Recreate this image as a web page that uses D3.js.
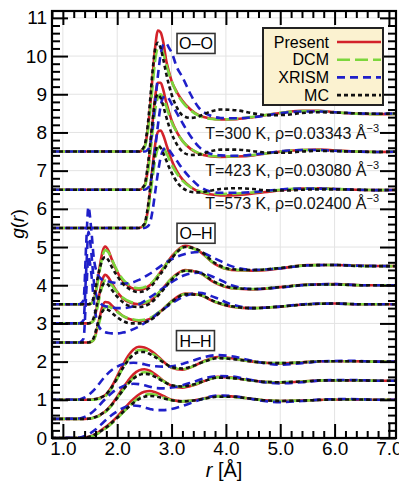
<!DOCTYPE html>
<html>
<head>
<meta charset="utf-8">
<script src="https://cdn.jsdelivr.net/npm/d3@7"></script>
<style>
  body { margin: 0; background: #fff; }
  svg { display: block; font-family: "Liberation Sans", Arial, sans-serif; }
</style>
</head>
<body>
<svg id="chart" width="399" height="481"></svg>
<script>
// ---- data (g(r), offsets added when drawing) ----
const seriesNames = ["Present", "DCM", "XRISM", "MC"];
const tempLabels = ["T=300 K, \u03c1=0.03343 \u00c5", "T=423 K, \u03c1=0.03080 \u00c5", "T=573 K, \u03c1=0.02400 \u00c5"];
const xTicks = [1, 2, 3, 4, 5, 6, 7];
const yTicks = [0, 1, 2, 3, 4, 5, 6, 7, 8, 9, 10, 11];

// O-O
const ooOffsets = [7.5, 6.5, 5.5];
const rOO = [0.8, 2.40, 2.50, 2.55, 2.60, 2.65, 2.70, 2.75, 2.80, 2.85, 2.90, 2.95, 3.00, 3.10, 3.20, 3.35, 3.50, 3.70, 3.90, 4.20, 4.50, 4.80, 5.10, 5.40, 5.70, 6.00, 6.40, 6.80, 7.20];
const ooPresent = [
  [0, 0, 0.12, 0.45, 1.1, 1.95, 2.75, 3.17, 3.12, 2.85, 2.4, 2.1, 1.85, 1.55, 1.33, 1.1, 0.95, 0.87, 0.84, 0.85, 0.9, 0.97, 1.03, 1.07, 1.07, 1.03, 0.99, 0.98, 0.99],
  [0, 0, 0.1, 0.4, 1.0, 1.75, 2.45, 2.8, 2.8, 2.6, 2.3, 2.05, 1.82, 1.5, 1.28, 1.07, 0.95, 0.88, 0.86, 0.87, 0.9, 0.96, 1.01, 1.04, 1.05, 1.03, 1.0, 0.99, 1.0],
  [0, 0, 0.08, 0.35, 0.9, 1.6, 2.2, 2.52, 2.55, 2.42, 2.2, 1.98, 1.78, 1.48, 1.27, 1.07, 0.95, 0.88, 0.85, 0.86, 0.9, 0.95, 1.0, 1.03, 1.04, 1.02, 1.0, 0.99, 1.0]
];
const ooDCM = [
  [0, 0, 0.1, 0.38, 0.95, 1.7, 2.4, 2.72, 2.74, 2.55, 2.3, 2.05, 1.85, 1.52, 1.3, 1.08, 0.94, 0.86, 0.84, 0.86, 0.91, 0.97, 1.03, 1.06, 1.06, 1.03, 0.99, 0.98, 0.99],
  [0, 0, 0.08, 0.33, 0.85, 1.5, 2.1, 2.42, 2.5, 2.4, 2.2, 1.98, 1.78, 1.5, 1.28, 1.08, 0.96, 0.89, 0.87, 0.88, 0.91, 0.96, 1.01, 1.04, 1.04, 1.02, 1.0, 0.99, 1.0],
  [0, 0, 0.07, 0.3, 0.75, 1.3, 1.8, 2.08, 2.15, 2.1, 1.98, 1.82, 1.66, 1.42, 1.24, 1.07, 0.97, 0.91, 0.89, 0.9, 0.93, 0.97, 1.01, 1.03, 1.03, 1.02, 1.0, 0.99, 1.0]
];
const ooXRISM = [
  [0, 0, 0, 0.03, 0.15, 0.6, 1.3, 2.0, 2.55, 2.8, 2.84, 2.72, 2.6, 2.2, 1.95, 1.5, 1.15, 0.95, 0.88, 0.87, 0.9, 0.96, 1.02, 1.05, 1.05, 1.03, 1.0, 0.99, 1.0],
  [0, 0, 0, 0.03, 0.13, 0.5, 1.1, 1.7, 2.2, 2.42, 2.45, 2.38, 2.25, 2.0, 1.75, 1.4, 1.13, 0.95, 0.9, 0.89, 0.92, 0.97, 1.02, 1.04, 1.04, 1.02, 1.0, 0.99, 1.0],
  [0, 0, 0, 0.03, 0.12, 0.45, 0.95, 1.45, 1.85, 2.05, 2.1, 2.05, 1.95, 1.75, 1.55, 1.3, 1.1, 0.96, 0.92, 0.92, 0.94, 0.98, 1.02, 1.03, 1.03, 1.02, 1.0, 0.99, 1.0]
];
const ooMC = [
  [0, 0, 0.15, 0.55, 1.25, 2.1, 2.7, 2.85, 2.7, 2.4, 2.05, 1.75, 1.5, 1.15, 0.95, 0.88, 0.92, 1.04, 1.1, 1.08, 1.0, 0.95, 0.96, 1.01, 1.03, 1.02, 1.0, 0.99, 1.0],
  [0, 0, 0.12, 0.5, 1.1, 1.8, 2.35, 2.5, 2.4, 2.18, 1.92, 1.68, 1.48, 1.18, 1.0, 0.91, 0.92, 1.0, 1.05, 1.05, 1.01, 0.97, 0.97, 1.0, 1.02, 1.01, 1.0, 0.99, 1.0],
  [0, 0, 0.1, 0.42, 0.95, 1.55, 1.98, 2.15, 2.1, 1.95, 1.78, 1.6, 1.45, 1.2, 1.05, 0.95, 0.93, 0.97, 1.02, 1.04, 1.02, 0.98, 0.98, 1.0, 1.01, 1.01, 1.0, 0.99, 1.0]
];

// O-H
const ohOffsets = [3.5, 3.0, 2.5];
const rOH = [0.8, 1.30, 1.38, 1.43, 1.47, 1.52, 1.57, 1.62, 1.68, 1.73, 1.78, 1.84, 1.90, 2.00, 2.10, 2.25, 2.40, 2.60, 2.80, 3.00, 3.25, 3.50, 3.80, 4.10, 4.50, 5.00, 5.50, 6.00, 6.50, 7.20];
const ohPresent = [
  [0, 0, 0, 0, 0, 0.02, 0.12, 0.45, 1.0, 1.38, 1.51, 1.4, 1.18, 0.85, 0.62, 0.44, 0.38, 0.5, 0.85, 1.25, 1.53, 1.4, 1.05, 0.9, 0.88, 0.94, 1.03, 1.03, 1.01, 1.0],
  [0, 0, 0, 0, 0, 0.02, 0.1, 0.38, 0.82, 1.15, 1.27, 1.2, 1.05, 0.82, 0.66, 0.54, 0.5, 0.58, 0.85, 1.18, 1.4, 1.33, 1.06, 0.92, 0.89, 0.95, 1.02, 1.03, 1.0, 1.0],
  [0, 0, 0, 0, 0, 0.02, 0.08, 0.3, 0.68, 0.95, 1.06, 1.05, 0.97, 0.82, 0.7, 0.6, 0.56, 0.62, 0.82, 1.08, 1.28, 1.25, 1.06, 0.94, 0.9, 0.94, 1.0, 1.02, 1.0, 1.0]
];
const ohDCM = [
  [0, 0, 0, 0, 0, 0.02, 0.1, 0.4, 0.9, 1.27, 1.42, 1.36, 1.18, 0.88, 0.66, 0.48, 0.42, 0.52, 0.85, 1.23, 1.5, 1.4, 1.06, 0.91, 0.89, 0.95, 1.02, 1.03, 1.0, 1.0],
  [0, 0, 0, 0, 0, 0.02, 0.08, 0.32, 0.72, 1.0, 1.12, 1.1, 1.0, 0.82, 0.68, 0.56, 0.52, 0.6, 0.86, 1.17, 1.38, 1.33, 1.08, 0.93, 0.9, 0.95, 1.01, 1.02, 1.0, 1.0],
  [0, 0, 0, 0, 0, 0.02, 0.07, 0.26, 0.58, 0.82, 0.92, 0.94, 0.9, 0.8, 0.7, 0.62, 0.58, 0.64, 0.83, 1.07, 1.27, 1.25, 1.07, 0.95, 0.9, 0.94, 1.0, 1.02, 1.0, 1.0]
];
const ohXRISM = [
  [0, 0, 0.1, 1.6, 2.55, 2.0, 1.2, 0.85, 0.7, 0.64, 0.62, 0.6, 0.58, 0.55, 0.54, 0.56, 0.64, 0.8, 1.0, 1.18, 1.32, 1.37, 1.2, 1.0, 0.9, 0.94, 1.02, 1.03, 1.01, 1.0],
  [0, 0, 0.08, 1.4, 2.4, 1.9, 1.1, 0.72, 0.55, 0.48, 0.45, 0.43, 0.42, 0.4, 0.4, 0.43, 0.5, 0.68, 0.88, 1.08, 1.27, 1.33, 1.2, 1.0, 0.9, 0.94, 1.01, 1.03, 1.0, 1.0],
  [0, 0, 0.1, 1.3, 2.25, 1.85, 1.1, 0.6, 0.38, 0.3, 0.27, 0.25, 0.24, 0.24, 0.26, 0.32, 0.42, 0.6, 0.82, 1.02, 1.22, 1.3, 1.18, 1.0, 0.9, 0.94, 1.01, 1.02, 1.0, 1.0]
];
const ohMC = [
  [0, 0, 0, 0, 0, 0.04, 0.2, 0.55, 0.95, 1.17, 1.24, 1.15, 0.98, 0.74, 0.55, 0.38, 0.32, 0.44, 0.8, 1.2, 1.5, 1.42, 1.08, 0.92, 0.9, 0.95, 1.02, 1.03, 1.0, 1.0],
  [0, 0, 0, 0, 0, 0.03, 0.16, 0.45, 0.8, 1.0, 1.06, 1.0, 0.88, 0.7, 0.56, 0.45, 0.43, 0.52, 0.8, 1.14, 1.38, 1.34, 1.08, 0.94, 0.9, 0.95, 1.01, 1.02, 1.0, 1.0],
  [0, 0, 0, 0, 0, 0.03, 0.13, 0.38, 0.66, 0.82, 0.87, 0.85, 0.78, 0.66, 0.57, 0.5, 0.5, 0.58, 0.8, 1.06, 1.26, 1.25, 1.07, 0.95, 0.9, 0.94, 1.0, 1.02, 1.0, 1.0]
];

// H-H
const hhOffsets = [1.0, 0.5, 0.0];
const rHH = [0.8, 1.30, 1.40, 1.50, 1.60, 1.70, 1.80, 1.90, 2.00, 2.10, 2.20, 2.30, 2.40, 2.50, 2.60, 2.70, 2.85, 3.00, 3.20, 3.40, 3.60, 3.85, 4.10, 4.40, 4.70, 5.00, 5.40, 5.80, 6.30, 6.80, 7.20];
const hhPresent = [
  [0, 0, 0, 0, 0.02, 0.06, 0.15, 0.35, 0.62, 0.9, 1.15, 1.32, 1.39, 1.37, 1.3, 1.2, 1.0, 0.84, 0.79, 0.88, 1.02, 1.12, 1.09, 1.02, 0.97, 0.95, 0.98, 1.01, 1.01, 1.0, 1.0],
  [0, 0, 0, 0.01, 0.05, 0.12, 0.22, 0.38, 0.58, 0.8, 1.0, 1.17, 1.27, 1.3, 1.26, 1.17, 1.0, 0.87, 0.82, 0.88, 0.99, 1.1, 1.08, 1.02, 0.97, 0.95, 0.98, 1.01, 1.01, 1.0, 1.0],
  [0, 0, 0.01, 0.04, 0.1, 0.2, 0.3, 0.42, 0.56, 0.72, 0.88, 1.02, 1.14, 1.21, 1.23, 1.2, 1.1, 1.0, 0.96, 0.98, 1.04, 1.1, 1.09, 1.04, 0.99, 0.97, 0.98, 1.0, 1.01, 1.0, 1.0]
];
const hhDCM = [
  [0, 0, 0, 0, 0.01, 0.04, 0.12, 0.3, 0.55, 0.82, 1.05, 1.22, 1.3, 1.3, 1.25, 1.16, 0.99, 0.85, 0.8, 0.88, 1.0, 1.1, 1.08, 1.02, 0.97, 0.96, 0.98, 1.01, 1.01, 1.0, 1.0],
  [0, 0, 0, 0.01, 0.04, 0.1, 0.2, 0.35, 0.54, 0.74, 0.92, 1.08, 1.18, 1.22, 1.2, 1.13, 0.99, 0.88, 0.84, 0.89, 0.99, 1.09, 1.07, 1.02, 0.97, 0.96, 0.98, 1.01, 1.01, 1.0, 1.0],
  [0, 0, 0.01, 0.03, 0.08, 0.16, 0.26, 0.38, 0.51, 0.66, 0.8, 0.94, 1.05, 1.12, 1.15, 1.13, 1.06, 0.99, 0.96, 0.98, 1.03, 1.09, 1.08, 1.04, 0.99, 0.97, 0.98, 1.0, 1.01, 1.0, 1.0]
];
const hhXRISM = [
  [0, 0.01, 0.06, 0.16, 0.3, 0.48, 0.65, 0.78, 0.87, 0.93, 0.96, 0.97, 0.96, 0.93, 0.9, 0.88, 0.87, 0.88, 0.94, 1.03, 1.12, 1.17, 1.14, 1.05, 0.96, 0.92, 0.96, 1.01, 1.02, 1.0, 1.0],
  [0, 0.01, 0.05, 0.13, 0.25, 0.4, 0.55, 0.68, 0.78, 0.85, 0.9, 0.92, 0.91, 0.88, 0.84, 0.81, 0.8, 0.82, 0.88, 0.97, 1.06, 1.12, 1.11, 1.04, 0.96, 0.93, 0.96, 1.01, 1.02, 1.0, 1.0],
  [0, 0.01, 0.05, 0.12, 0.22, 0.35, 0.48, 0.6, 0.7, 0.78, 0.83, 0.85, 0.84, 0.8, 0.76, 0.73, 0.73, 0.76, 0.84, 0.94, 1.04, 1.11, 1.1, 1.04, 0.97, 0.94, 0.97, 1.01, 1.02, 1.0, 1.0]
];
const hhMC = [
  [0, 0, 0, 0, 0.02, 0.06, 0.15, 0.33, 0.57, 0.82, 1.03, 1.18, 1.25, 1.25, 1.2, 1.12, 0.98, 0.86, 0.82, 0.89, 1.0, 1.09, 1.07, 1.02, 0.97, 0.96, 0.98, 1.01, 1.01, 1.0, 1.0],
  [0, 0, 0, 0.01, 0.05, 0.12, 0.22, 0.37, 0.55, 0.74, 0.92, 1.06, 1.15, 1.18, 1.16, 1.1, 0.98, 0.88, 0.85, 0.9, 0.99, 1.08, 1.07, 1.02, 0.97, 0.96, 0.98, 1.01, 1.01, 1.0, 1.0],
  [0, 0, 0.01, 0.04, 0.1, 0.18, 0.28, 0.4, 0.53, 0.67, 0.8, 0.92, 1.02, 1.08, 1.1, 1.09, 1.04, 0.99, 0.96, 0.98, 1.03, 1.08, 1.08, 1.04, 0.99, 0.97, 0.98, 1.0, 1.01, 1.0, 1.0]
];

// ---- styles ----
const colors = { Present: "#d3222a", DCM: "#7cd63c", XRISM: "#1f1fc9", MC: "#111111" };
const dashes = { Present: null, DCM: "13,5", XRISM: "8,5", MC: "4,3" };

const svg = d3.select("#chart");
const x = d3.scaleLinear().domain([0.8, 7.13]).range([52, 396]);
const y = d3.scaleLinear().domain([0, 11.18]).range([438, 11]);
const [x0, x1] = x.range();
const [y0, y1] = y.range();

// grid
svg.append("g").selectAll("line").data(xTicks).join("line")
  .attr("x1", d => x(d)).attr("x2", d => x(d)).attr("y1", y0).attr("y2", y1)
  .attr("stroke", "#e3e3e3").attr("stroke-width", 1);
svg.append("g").selectAll("line").data(yTicks.filter(d => d > 0)).join("line")
  .attr("x1", x0).attr("x2", x1).attr("y1", d => y(d)).attr("y2", d => y(d))
  .attr("stroke", "#e3e3e3").attr("stroke-width", 1);

svg.append("clipPath").attr("id", "clip").append("rect")
  .attr("x", x0).attr("y", y1).attr("width", x1 - x0).attr("height", y0 - y1);

const plot = svg.append("g").attr("clip-path", "url(#clip)");

const panels = [
  { r: rOO, offsets: ooOffsets, data: { Present: ooPresent, DCM: ooDCM, XRISM: ooXRISM, MC: ooMC } },
  { r: rOH, offsets: ohOffsets, data: { Present: ohPresent, DCM: ohDCM, XRISM: ohXRISM, MC: ohMC } },
  { r: rHH, offsets: hhOffsets, data: { Present: hhPresent, DCM: hhDCM, XRISM: hhXRISM, MC: hhMC } }
];

seriesNames.forEach(name => {
  panels.forEach(p => {
    p.data[name].forEach((vals, ti) => {
      const off = p.offsets[ti];
      const line = d3.line()
        .x((d, i) => x(p.r[i]))
        .y(d => y(d + off))
        .curve(d3.curveMonotoneX);
      plot.append("path")
        .attr("d", line(vals))
        .attr("fill", "none")
        .attr("stroke", colors[name])
        .attr("stroke-width", 2.6)
        .attr("stroke-dasharray", dashes[name]);
    });
  });
});

// axes (ticks pointing inward)
const xMinor = d3.range(4, 36).map(i => i / 5).filter(d => Math.abs(d - Math.round(d)) > 0.01);
const yMinor = d3.range(1, 56).map(i => i / 5).filter(d => Math.abs(d - Math.round(d)) > 0.01);

function styleAxis(g) {
  g.selectAll("line").attr("stroke", "#000").attr("stroke-width", 2);
  g.select(".domain").remove();
}

svg.append("g").attr("transform", `translate(${x0},0)`)
  .call(d3.axisLeft(y).tickValues(yTicks).tickSize(-16).tickSizeOuter(0).tickPadding(5).tickFormat(d3.format("d")))
  .call(styleAxis)
  .call(g => g.selectAll("text").attr("font-size", 19).attr("fill", "#000").attr("font-family", "Liberation Sans, Arial, sans-serif"));
svg.append("g").attr("transform", `translate(${x0},0)`)
  .call(d3.axisLeft(y).tickValues(yMinor).tickSize(-8).tickFormat(""))
  .call(styleAxis);
svg.append("g").attr("transform", `translate(${x1},0)`)
  .call(d3.axisRight(y).tickValues(yTicks).tickSize(-16).tickFormat(""))
  .call(styleAxis);
svg.append("g").attr("transform", `translate(${x1},0)`)
  .call(d3.axisRight(y).tickValues(yMinor).tickSize(-8).tickFormat(""))
  .call(styleAxis);

svg.append("g").attr("transform", `translate(0,${y0})`)
  .call(d3.axisBottom(x).tickValues(xTicks).tickSize(-14).tickPadding(3).tickFormat(d3.format(".1f")))
  .call(styleAxis)
  .call(g => g.selectAll("text").attr("font-size", 19).attr("fill", "#000").attr("font-family", "Liberation Sans, Arial, sans-serif"));
svg.append("g").attr("transform", `translate(0,${y0})`)
  .call(d3.axisBottom(x).tickValues(xMinor).tickSize(-7).tickFormat(""))
  .call(styleAxis);
svg.append("g").attr("transform", `translate(0,${y1})`)
  .call(d3.axisTop(x).tickValues(xTicks).tickSize(-14).tickFormat(""))
  .call(styleAxis);
svg.append("g").attr("transform", `translate(0,${y1})`)
  .call(d3.axisTop(x).tickValues(xMinor).tickSize(-7).tickFormat(""))
  .call(styleAxis);

svg.append("rect")
  .attr("x", x0).attr("y", y1).attr("width", x1 - x0).attr("height", y0 - y1)
  .attr("fill", "none").attr("stroke", "#000").attr("stroke-width", 2.2);

// axis titles
const yTitle = svg.append("text")
  .attr("transform", "translate(24,224) rotate(-90)")
  .attr("text-anchor", "middle").attr("font-size", 19);
yTitle.append("tspan").attr("font-style", "italic").text("g");
yTitle.append("tspan").text("(");
yTitle.append("tspan").attr("font-style", "italic").text("r");
yTitle.append("tspan").text(")");

const xTitle = svg.append("text")
  .attr("x", 224).attr("y", 477)
  .attr("text-anchor", "middle").attr("font-size", 20);
xTitle.append("tspan").attr("font-style", "italic").text("r");
xTitle.append("tspan").text(" [\u00c5]");

// panel labels
const panelLabels = [
  { text: "O\u2013O", r: 3.45, g: 10.33 },
  { text: "O\u2013H", r: 3.45, g: 5.36 },
  { text: "H\u2013H", r: 3.44, g: 2.55 }
];
panelLabels.forEach(p => {
  const cx = x(p.r), cy = y(p.g);
  svg.append("rect")
    .attr("x", cx - 19).attr("y", cy - 10).attr("width", 38).attr("height", 20)
    .attr("fill", "#fff").attr("stroke", "#333").attr("stroke-width", 1.6);
  svg.append("text")
    .attr("x", cx).attr("y", cy + 6).attr("text-anchor", "middle")
    .attr("font-size", 16).text(p.text);
});

// temperature / density labels
const tempPos = [7.83, 6.86, 6.0];
tempLabels.forEach((t, i) => {
  const txt = svg.append("text")
    .attr("x", x(3.62)).attr("y", y(tempPos[i]))
    .attr("font-size", 16).attr("fill", "#111");
  txt.append("tspan").text(t);
  txt.append("tspan").attr("font-size", 11).attr("dy", -7).text("\u22123");
});

// legend
const lg = svg.append("g");
lg.append("rect")
  .attr("x", 263).attr("y", 28).attr("width", 120).attr("height", 77)
  .attr("fill", "#fbf2d0").attr("stroke", "#222").attr("stroke-width", 2);
seriesNames.forEach((name, i) => {
  const cy = 42 + i * 17.7;
  lg.append("text")
    .attr("x", 329).attr("y", cy + 5.5).attr("text-anchor", "end")
    .attr("font-size", 16).text(name);
  lg.append("line")
    .attr("x1", 337).attr("x2", 381).attr("y1", cy).attr("y2", cy)
    .attr("stroke", colors[name]).attr("stroke-width", 2.6)
    .attr("stroke-dasharray", dashes[name]);
});
</script>
</body>
</html>
